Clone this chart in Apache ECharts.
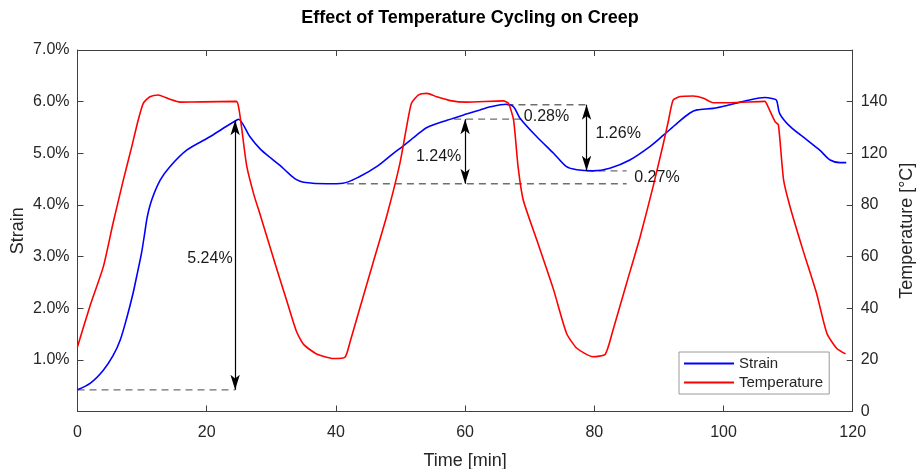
<!DOCTYPE html>
<html>
<head>
<meta charset="utf-8">
<title>Effect of Temperature Cycling on Creep</title>
<script src="https://cdn.jsdelivr.net/npm/echarts@6/dist/echarts.min.js"></script>
<style>
  html, body { margin: 0; padding: 0; background: #fff; }
  #chart { width: 917px; height: 469px; }
</style>
</head>
<body>
<div id="chart"></div>
<script>
  // strain curve: time [min] / strain [%]
  var strainTime = [0, 2, 4, 5.5, 6.6, 7.6, 8.6, 9.3, 9.9, 10.4, 10.8, 11.5, 12.8, 14.3, 16.9, 20.5, 22.5, 24.6, 24.9,
    26.7, 28.3, 30.0, 31.3, 32.6, 33.9, 35.0, 38.6, 41.1, 43.7, 46.3, 48.9, 50.4, 52.5, 54.1, 57.2, 60.2, 62.3, 63.9, 66.4,
    67.5, 68.5, 71.1, 73.7, 75.7, 77.3, 79.8, 82.4, 85.5, 88.6, 90.7, 92.8, 94.8, 95.9, 98.4, 101.0, 103.6, 106.4, 107.5,
    108.2, 108.7, 110.3, 112.9, 114.9, 116.5, 118.0, 119.0];
  var strainValues = [0.42, 0.55, 0.80, 1.08, 1.38, 1.80, 2.29, 2.70, 3.06, 3.45, 3.77, 4.10, 4.48, 4.74, 5.06, 5.32, 5.48, 5.64, 5.66,
    5.32, 5.08, 4.90, 4.77, 4.62, 4.49, 4.44, 4.41, 4.42, 4.55, 4.74, 5.00, 5.14, 5.35, 5.50, 5.64, 5.76, 5.84, 5.90, 5.95,
    5.90, 5.68, 5.32, 5.00, 4.74, 4.68, 4.66, 4.71, 4.87, 5.13, 5.35, 5.58, 5.78, 5.84, 5.87, 5.94, 6.02, 6.08, 6.06,
    6.03, 5.77, 5.52, 5.26, 5.06, 4.87, 4.82, 4.82];

  // temperature curve: time [min] / value on the right axis scale
  var tempTime = [0, 1.9, 4.0, 5.5, 7.1, 8.4, 9.4, 10.2, 11.2, 12.5, 14.3, 15.9, 19.3, 24.6, 25.0, 25.4, 26.2, 27.3, 28.3,
    30.5, 32.5, 33.9, 35.0, 37.0, 39.6, 41.4, 42.2, 43.7, 45.8, 47.9, 49.9, 51.0, 51.7, 52.8, 54.1, 55.6, 57.7, 60.2,
    65.9, 66.7, 67.5, 68.2, 69.0, 71.1, 73.7, 75.7, 77.3, 79.8, 81.7, 82.9, 85.0, 87.1, 89.1, 90.7, 91.5, 92.2, 93.3,
    95.3, 96.9, 98.4, 101.0, 106.4, 106.9, 108.0, 108.5, 109.3, 110.3, 112.3, 114.4, 116.0, 117.5, 118.9];
  var tempValues = [25.1, 40.6, 56.1, 72.9, 89.7, 102.6, 112.9, 119.4, 121.9, 122.6, 120.9, 119.8, 119.9, 120.1, 117.0, 110.0, 95.0, 84.0, 76.0,
    58.0, 42.0, 31.0, 26.0, 22.3, 20.5, 21.0, 27.0, 40.0, 58.0, 76.0, 96.0, 111.0, 119.4, 122.6, 123.2, 121.9, 120.4, 119.8,
    120.3, 119.4, 112.9, 94.8, 81.9, 66.4, 47.1, 30.3, 24.5, 21.2, 22.2, 31.6, 49.7, 67.7, 87.1, 103.9, 112.9, 120.6, 122.0,
    122.2, 121.3, 119.6, 119.6, 120.1, 118.0, 112.2, 111.0, 89.7, 79.3, 62.5, 45.8, 30.3, 24.5, 22.3];

  var tempTickLabels = ['0', '20', '40', '60', '80', '120', '140', ''];

  // dashed guide lines: start time, end time, strain level
  var guideStart = [0, 41.7, 58.3, 66.4, 78.8];
  var guideEnd = [24.4, 85.0, 69.0, 79.3, 85.0];
  var guideLevel = [0.42, 4.41, 5.66, 5.94, 4.66];

  // double arrows: time, from strain, to strain
  var arrowTime = [24.4, 60.0, 78.8];
  var arrowFrom = [0.42, 4.41, 4.66];
  var arrowTo = [5.64, 5.66, 5.94];

  // annotation texts
  var noteText = ['5.24%', '1.24%', '0.28%', '1.26%', '0.27%'];
  var noteTime = [20.5, 55.9, 72.6, 83.7, 89.7];
  var noteStrain = [2.97, 4.93, 5.72, 5.39, 4.52];

  var font = 'Liberation Sans, Arial, Helvetica, sans-serif';
  var ink = '#262626';
  var axisColor = '#404040';

  function pairs(xs, ys) {
    var out = [];
    for (var i = 0; i < xs.length; i++) out.push([xs[i], ys[i]]);
    return out;
  }

  var series = [{
    name: 'Strain',
    type: 'line',
    yAxisIndex: 0,
    data: pairs(strainTime, strainValues),
    symbol: 'none',
    smooth: 0.3,
    lineStyle: {color: '#0000ff', width: 1.6},
    itemStyle: {color: '#0000ff'},
    z: 3,
    markLine: {
      silent: true,
      symbol: ['arrow', 'arrow'],
      symbolSize: [7, 15],
      label: {show: false},
      lineStyle: {color: '#000', width: 1.2, type: 'solid'},
      data: arrowTime.map(function (t, i) {
        return [{coord: [t, arrowFrom[i]]}, {coord: [t, arrowTo[i]]}];
      })
    }
  }, {
    name: 'Temperature',
    type: 'line',
    yAxisIndex: 1,
    data: pairs(tempTime, tempValues),
    symbol: 'none',
    smooth: 0.2,
    lineStyle: {color: '#ff0000', width: 1.6},
    itemStyle: {color: '#ff0000'},
    z: 4
  }];

  for (var i = 0; i < guideLevel.length; i++) {
    series.push({
      type: 'line',
      yAxisIndex: 0,
      data: [[guideStart[i], guideLevel[i]], [guideEnd[i], guideLevel[i]]],
      symbol: 'none',
      silent: true,
      lineStyle: {color: '#6e6e6e', width: 1.3, type: [7, 5]},
      z: 2
    });
  }

  series.push({
    type: 'scatter',
    yAxisIndex: 0,
    symbolSize: 0,
    silent: true,
    itemStyle: {color: 'transparent', opacity: 1},
    data: noteTime.map(function (t, i) {
      return {value: [t, noteStrain[i]], name: noteText[i]};
    }),
    label: {
      show: true,
      position: 'inside',
      formatter: '{b}',
      color: '#1a1a1a',
      textBorderWidth: 0,
      textBorderColor: 'transparent',
      fontFamily: font,
      fontSize: 16
    },
    z: 6
  });

  function baseAxis(extra) {
    var ax = {
      type: 'value',
      nameMoveOverlap: false,
      axisLine: {show: true, onZero: false, lineStyle: {color: axisColor, width: 1}},
      axisTick: {show: true, inside: true, length: 6, lineStyle: {color: axisColor}},
      axisLabel: {fontFamily: font, fontSize: 16, color: ink, margin: 8},
      nameTextStyle: {fontFamily: font, fontSize: 18, color: ink},
      splitLine: {show: false}
    };
    for (var k in extra) ax[k] = extra[k];
    return ax;
  }

  var option = {
    animation: false,
    backgroundColor: '#fff',
    title: {
      text: 'Effect of Temperature Cycling on Creep',
      left: 465,
      textAlign: 'center',
      top: 4,
      textStyle: {fontFamily: font, fontSize: 18, fontWeight: 'bold', color: '#000'}
    },
    legend: {
      data: ['Strain', 'Temperature'],
      orient: 'vertical',
      left: 679,
      top: 352,
      padding: [4, 6, 4, 5],
      itemGap: 4,
      itemWidth: 50,
      itemHeight: 2,
      icon: 'rect',
      backgroundColor: '#fff',
      borderColor: '#9a9a9a',
      borderWidth: 1,
      borderRadius: 0,
      textStyle: {fontFamily: font, fontSize: 15, color: ink}
    },
    grid: {left: 77.5, right: 64.3, top: 50, bottom: 57.5, outerBoundsMode: 'none', containLabel: false},
    xAxis: [baseAxis({
      min: 0,
      max: 120,
      interval: 20,
      name: 'Time [min]',
      nameLocation: 'middle',
      nameGap: 41,
      axisLabel: {fontFamily: font, fontSize: 16, color: ink, margin: 13}
    }), baseAxis({
      position: 'top',
      min: 0,
      max: 120,
      interval: 20,
      axisLabel: {show: false}
    })],
    yAxis: [baseAxis({
      position: 'left',
      min: 0,
      max: 7,
      interval: 1,
      name: 'Strain',
      nameLocation: 'middle',
      nameGap: 50,
      axisLabel: {
        fontFamily: font, fontSize: 16, color: ink, margin: 8, showMinLabel: false,
        formatter: function (v) { return v.toFixed(1) + '%'; }
      }
    }), baseAxis({
      position: 'right',
      min: 0,
      max: 140,
      interval: 20,
      name: 'Temperature [°C]',
      nameLocation: 'middle',
      nameGap: 45,
      axisLabel: {
        fontFamily: font, fontSize: 16, color: ink, margin: 8,
        formatter: function (v) { return tempTickLabels[Math.round(v / 20)]; }
      }
    })],
    series: series
  };

  var chart = echarts.init(document.getElementById('chart'));
  chart.setOption(option);
</script>
</body>
</html>
